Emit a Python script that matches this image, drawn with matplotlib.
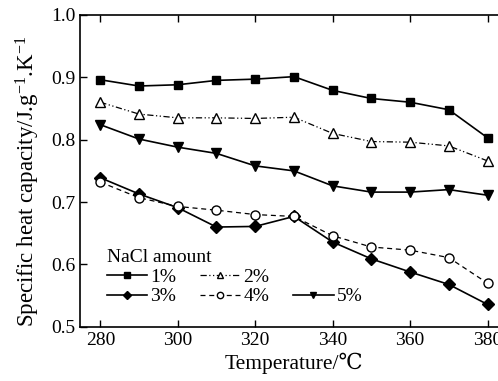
import matplotlib
matplotlib.use('Agg')
import matplotlib.pyplot as plt
from matplotlib.lines import Line2D

plt.rcParams['font.family'] = ['Liberation Serif', 'DejaVu Serif']
plt.rcParams['mathtext.default'] = 'regular'

# Data
temperature = [280, 290, 300, 310, 320, 330, 340, 350, 360, 370, 380]
nacl_1 = [0.896, 0.886, 0.888, 0.895, 0.897, 0.901, 0.879, 0.866, 0.860, 0.848, 0.803]
nacl_2 = [0.860, 0.841, 0.835, 0.835, 0.834, 0.836, 0.810, 0.797, 0.796, 0.790, 0.766]
nacl_3 = [0.739, 0.713, 0.691, 0.660, 0.661, 0.677, 0.636, 0.609, 0.588, 0.568, 0.536]
nacl_4 = [0.732, 0.707, 0.693, 0.687, 0.680, 0.677, 0.646, 0.628, 0.623, 0.611, 0.570]
nacl_5 = [0.824, 0.801, 0.788, 0.778, 0.758, 0.750, 0.726, 0.716, 0.716, 0.720, 0.711]

labels = ['1%', '2%', '3%', '4%', '5%']

fig = plt.figure(figsize=(4.98, 3.81), dpi=100)
ax = fig.add_axes([0.161, 0.142, 0.86, 0.819])

lw = 1.2
h1, = ax.plot(temperature, nacl_1, '-', color='black', lw=lw, marker='s', ms=6)
h2, = ax.plot(temperature, nacl_2, color='black', lw=0.9, ls=(0, (5, 2, 1, 2, 1, 2)),
              marker='^', ms=7, mfc='white', mec='black')
h3, = ax.plot(temperature, nacl_3, '-', color='black', lw=lw, marker='D', ms=6)
h4, = ax.plot(temperature, nacl_4, color='black', lw=0.9, ls=(0, (4, 3)),
              marker='o', ms=6.5, mfc='white', mec='black')
h5, = ax.plot(temperature, nacl_5, '-', color='black', lw=lw, marker='v', ms=7)

# blank entry so that 5% sits in the second row
blank = Line2D([], [], color='none')
leg = ax.legend([h1, h3, h2, h4, blank, h5],
                [labels[0], labels[2], labels[1], labels[3], '', labels[4]],
                ncol=3, title='NaCl amount', loc='lower left',
                bbox_to_anchor=(0.03, 0.025), frameon=False, fontsize=14,
                title_fontsize=14, handlelength=2.1, handletextpad=0.15,
                columnspacing=1.2, labelspacing=0.1, borderpad=0.2,
                markerscale=0.7)
leg._legend_box.align = 'left'

ax.set_xlim(274.8, 385.4)
ax.set_ylim(0.5, 1.0)
ax.set_xticks([280, 300, 320, 340, 360, 380])
ax.set_yticks([0.5, 0.6, 0.7, 0.8, 0.9, 1.0])
ax.tick_params(direction='in', top=True, right=False, labelsize=14, length=5, width=1)
ax.spines['right'].set_visible(False)
for s in ['left', 'bottom', 'top']:
    ax.spines[s].set_linewidth(1.2)

ax.set_xlabel('Temperature/℃', fontsize=15.5, labelpad=3)
ax.set_ylabel('Specific heat capacity/J.g$^{-1}$.K$^{-1}$', fontsize=16.5)
ax.yaxis.set_label_coords(-0.09, 0.465)

fig.savefig('out.png', dpi=100)
